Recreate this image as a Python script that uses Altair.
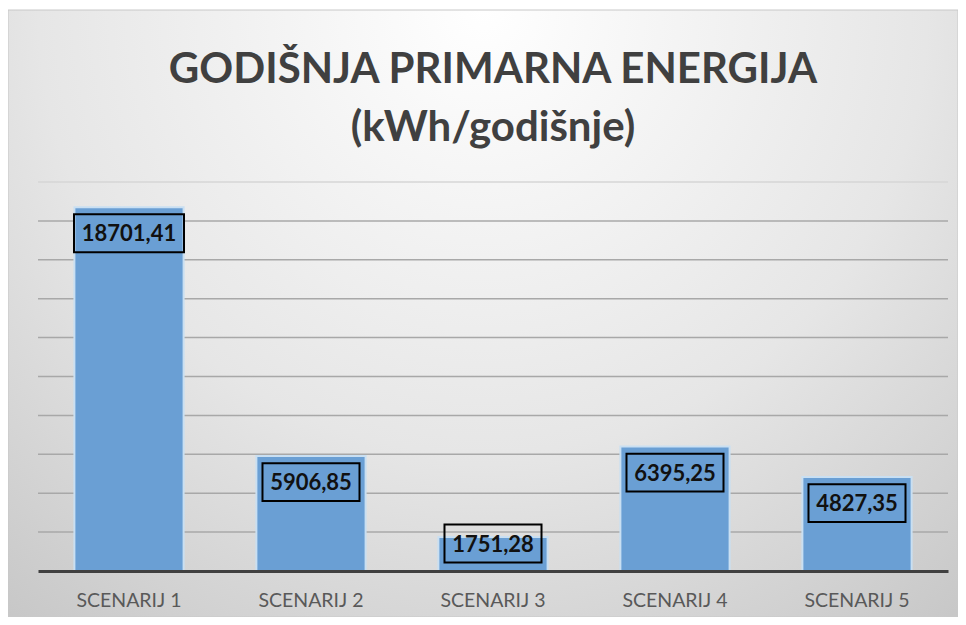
import altair as alt
import pandas as pd

categories = ["SCENARIJ 1", "SCENARIJ 2", "SCENARIJ 3", "SCENARIJ 4", "SCENARIJ 5"]
values = [18701.41, 5906.85, 1751.28, 6395.25, 4827.35]
y_ticks = [2000, 4000, 6000, 8000, 10000, 12000, 14000, 16000, 18000, 20000]
title_lines = ["GODIŠNJA PRIMARNA ENERGIJA", "(kWh/godišnje)"]

df = pd.DataFrame({"cat": categories, "v": values})
grid_df = pd.DataFrame({"t": y_ticks})

W, H = 910, 389
PAD = {"left": 30, "top": 174, "right": 10, "bottom": 46}

x_enc = alt.X("cat:N", sort=categories,
              scale=alt.Scale(paddingInner=0.4, paddingOuter=0.2),
              axis=alt.Axis(title=None, labelAngle=0, ticks=False,
                            labelFont="Lato", labelFontSize=19.5, labelColor="#595959",
                            labelPadding=20, domainColor="#404040", domainWidth=3,
                            zindex=1))
y_scale = alt.Scale(domain=[0, 20000], nice=False)

bg = alt.Chart(alt.Data(values=[{}])).mark_rect(
    fill={"gradient": "radial", "x1": 0.5, "y1": 0.18, "x2": 0.5, "y2": 0.18,
          "r1": 0, "r2": 0.85,
          "stops": [{"offset": 0, "color": "#ffffff"},
                    {"offset": 0.55, "color": "#e6e6e6"},
                    {"offset": 1, "color": "#c4c4c4"}]},
    stroke="#c8c8c8", strokeWidth=1
).encode(x=alt.value(-PAD["left"]), x2=alt.value(W + PAD["right"]),
         y=alt.value(-PAD["top"] + 2), y2=alt.value(H + PAD["bottom"]))

grid = alt.Chart(grid_df).mark_rule(strokeWidth=1.5).encode(
    y=alt.Y("t:Q", scale=y_scale,
            axis=alt.Axis(title=None, labels=False, ticks=False, domain=False, grid=False)),
    color=alt.condition("datum.t === 20000", alt.value("#d6d6d6"), alt.value("#a8a8a8")),
)

base = alt.Chart(df)

bars = base.mark_bar(color="#6A9FD4", stroke="#C9DFF2", strokeWidth=2).encode(
    x=x_enc,
    y=alt.Y("v:Q", scale=y_scale, axis=None),
)

lab = base.transform_calculate(
    ly="max(datum.v, 2750)",
    txt="replace(format(datum.v, '.2f'), '.', ',')",
    n="length(replace(format(datum.v, '.2f'), '.', ','))",
)

path8 = "M-1,-0.345L1,-0.345L1,0.345L-1,0.345Z"
path7 = "M-0.882,-0.345L0.882,-0.345L0.882,0.345L-0.882,0.345Z"

boxes = lab.mark_point(filled=False, stroke="#000000", strokeWidth=2, opacity=1,
                       size=12100, yOffset=26).encode(
    x=alt.X("cat:N", sort=categories),
    y=alt.Y("ly:Q", scale=y_scale),
    shape=alt.Shape("n:O", scale=alt.Scale(domain=[7, 8], range=[path7, path8]), legend=None),
)

texts = lab.mark_text(font="Lato", fontSize=22, fontWeight="bold", color="#111111",
                      baseline="middle", yOffset=27).encode(
    x=alt.X("cat:N", sort=categories),
    y=alt.Y("ly:Q", scale=y_scale),
    text="txt:N",
)

chart = alt.layer(bg, grid, bars, boxes, texts).properties(
    width=W, height=H,
    autosize=alt.AutoSizeParams(type="none"),
    padding=PAD,
    title=alt.TitleParams(text=title_lines, anchor="middle", font="Lato",
                          fontSize=42, fontWeight="bold", color="#404040",
                          lineHeight=58, offset=-140),
).configure_view(stroke=None).configure(background="#ffffff")

chart.save("out.html", embed_options={"renderer": "svg", "actions": False})
